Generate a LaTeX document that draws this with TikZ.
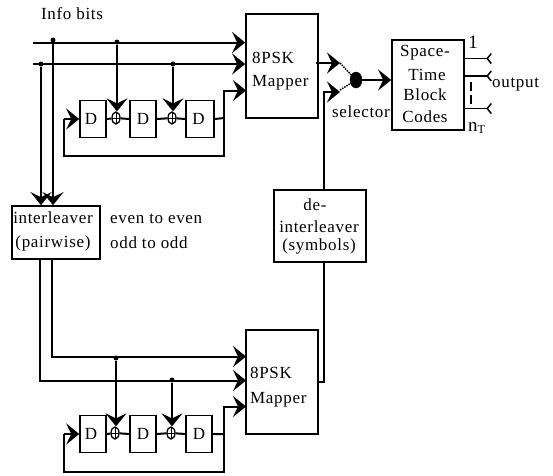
\documentclass[tikz,border=0pt]{standalone}
\usepackage{fontspec}
\setmainfont[LetterSpace=4]{Liberation Serif}
\usetikzlibrary{arrows.meta,shapes.geometric,calc}
\tikzset{
  x=1pt,y=-1pt,
  wire/.style={line width=2pt,line join=miter},
  sig/.style={wire,-{Stealth[length=13pt,width=21pt,inset=5pt]}},
  boxn/.style={draw,line width=1.7pt,rectangle,inner sep=0pt,fill=white,font=\fontsize{17}{17}\selectfont,align=center},
  dbox/.style={boxn,minimum width=26pt,minimum height=37pt,line width=1.5pt},
  xorn/.style={draw,ellipse,line width=1.3pt,minimum width=8pt,minimum height=12pt,inner sep=0pt,
    path picture={\draw[line width=1pt] (path picture bounding box.north)--(path picture bounding box.south)
      (path picture bounding box.west)--(path picture bounding box.east);}},
  dot/.style={circle,fill=black,inner sep=0pt,minimum size=5pt},
  lab/.style={inner sep=0pt,font=\fontsize{17}{17}\selectfont},
  fork/.style={line width=1.7pt,-{Straight Barb[reversed,length=4pt,width=10pt,line width=1.5pt]}},
}
\begin{document}
\begin{tikzpicture}
\useasboundingbox (0,0) rectangle (553,475);
\fill[white] (0,0) rectangle (553,475);
% blocks
\node[boxn,minimum width=72pt,minimum height=104pt] (mapA) at (282,66) {};
\node[boxn,minimum width=72pt,minimum height=104pt] (mapB) at (282,382) {};
\node[boxn,minimum width=88pt,minimum height=53pt] (intl) at (56,232.5) {};
\node[boxn,minimum width=92pt,minimum height=72pt] (deintl) at (320,226) {};
\node[boxn,minimum width=72pt,minimum height=90pt] (stbc) at (428,85) {};
\node[lab,anchor=west] (mapAa) at (252,58) {8PSK};
\node[lab,anchor=west] (mapAb) at (252,83) {Mapper};
\node[lab,anchor=west] (mapBa) at (250,373) {8PSK};
\node[lab,anchor=west] (mapBb) at (250,400) {Mapper};
\node[lab] (inta) at (53,218) {interleaver};
\node[lab] (intb) at (53,243) {(pairwise)};
\node[lab] (dea) at (315,205) {de-};
\node[lab] (deb) at (319,227) {interleaver};
\node[lab] (dec) at (319,246) {(symbols)};
\node[lab] (sta) at (425,53) {Space-};
\node[lab] (stb) at (427,75) {Time};
\node[lab] (stc) at (425,95) {Block};
\node[lab] (std) at (425,117) {Codes};
\node[lab] (info) at (72,14) {Info bits};
\node[lab,anchor=west] (even) at (110,219) {even to even};
\node[lab,anchor=west] (odd) at (110,243) {odd to odd};
\node[lab] (sel) at (361,112) {selector};
\node[lab,anchor=west] (outl) at (492,85) {output};
\node[lab,font=\fontsize{19}{19}\selectfont] (one) at (473,42) {1};
\node[lab,anchor=west,font=\fontsize{19}{19}\selectfont] (nt) at (468,128) {n\raisebox{-2pt}{\fontsize{12}{12}\selectfont T}};
% upper encoder
\node[dbox] (a1) at (93,119) {D\hspace{4pt}};
\node[dbox] (a2) at (143,119) {D};
\node[dbox,minimum width=28pt] (a3) at (200,119) {D\hspace{3pt}};
\node[xorn] (ax1) at (116,118) {};
\node[xorn] (ax2) at (172,118) {};
% lower encoder
\node[dbox] (b1) at (93,434) {D\hspace{4pt}};
\node[dbox] (b2) at (143,434) {D};
\node[dbox] (b3) at (199,434) {D};
\node[xorn] (bx1) at (115,433) {};
\node[xorn] (bx2) at (171,433) {};
% coordinates
\coordinate (in1) at (33,42.5);
\coordinate (in2) at (33,64);
\node[dot] (d1) at (53,40) {};
\node[dot] (d2) at (41,64) {};
\node[dot] (d3) at (117,42) {};
\node[dot] (d4) at (173,64) {};
\node[dot] (d5) at (116,358) {};
\node[dot] (d6) at (172,380) {};
\coordinate (fbA) at (224,118);
\coordinate (fbB) at (224,434);
\coordinate (o1) at (492,58.5);
\coordinate (o2) at (492,76);
\coordinate (o3) at (492,108.5);
\coordinate (swA) at (340,63);
\coordinate (swB) at (340,90);
% inputs
\draw[sig] (in1) -- (mapA.west |- in1);
\draw[sig] (in2) -- (mapA.west |- in2);
\draw[sig] (d1) -- (d1 |- intl.north);
\draw[sig] (d2) -- (d2 |- intl.north);
\draw[sig] (d3) -- (d3 |- ax1.north);
\draw[sig] (d4) -- (d4 |- ax2.north);
\draw[wire] (a1.east) -- (ax1) -- (a2.west) (a2.east) -- (ax2) -- (a3.west) (a3.east) -- (fbA);
\draw[sig] (fbA) |- (246,90.5);
\draw[wire] (fbA) -- (224,156) -- (64,156) -- (64,119);
\draw[sig] (64,119) -- (a1.west);
% lower inputs
\draw[sig] (52,259) |- (246,356.5);
\draw[sig] (40,259) |- (246,380.5);
\draw[sig] (d5) -- (d5 |- bx1.north);
\draw[sig] (d6) -- (d6 |- bx2.north);
\draw[wire] (b1.east) -- (bx1) -- (b2.west) (b2.east) -- (bx2) -- (b3.west) (b3.east) -- (fbB);
\draw[sig] (fbB) |- (246,406.5);
\draw[wire] (fbB) -- (224,472) -- (64,472) -- (64,434);
\draw[sig] (64,434) -- (b1.west);
% selector
\node[draw,fill=black,ellipse,inner sep=0pt,minimum width=12pt,minimum height=16pt] (selD) at (356,80) {};
\draw[sig] (316,63) -- (swA);
\draw[sig] (324,190) -- (324,92) -- (340,92);
\draw[wire] (324,262) -- (324,382) -- (318,382);
\draw[line width=1.5pt,densely dotted] (swA) -- (selD);
\draw[line width=1.5pt,densely dotted] (swB) -- (selD);
\draw[sig] (selD) -- (stbc.west |- selD);
% outputs
\draw[fork] (stbc.east |- o1) -- (o1);
\draw[fork] (stbc.east |- o2) -- (o2);
\draw[fork] (stbc.east |- o3) -- (o3);
\draw[line width=2.5pt,dash pattern=on 9pt off 4pt] (471,82) -- (471,105);
\end{tikzpicture}
\end{document}
